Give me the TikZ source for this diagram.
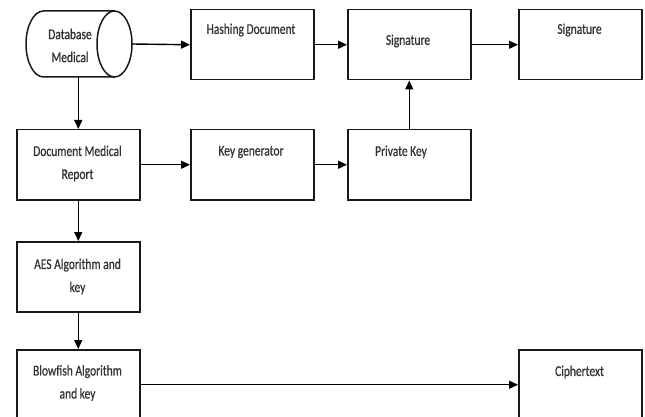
\documentclass[tikz,border=0pt]{standalone}
\usepackage{fontspec}
\setmainfont{Carlito}
\newfontface\labelface{Carlito}[FakeBold=0.8]
\usetikzlibrary{arrows.meta}
% labels are set in a narrow, tall face
\newcommand\tall[1]{\scalebox{1}[1.3]{#1}}
\begin{document}
\begin{tikzpicture}[x=1pt,y=-1pt,
  box/.style={draw=black!90, line width=1.5pt, minimum width=123pt, minimum height=70pt,
              anchor=north west, inner sep=0pt},
  txt/.style={text=black!80, font=\fontsize{11.5}{23}\labelface, align=center, inner sep=0pt},
  arr/.style={draw=black, line width=1.4pt, -{Triangle[length=9pt,width=8pt]}}]
\useasboundingbox (0,0) rectangle (645,417);
\clip (0,0) rectangle (645,417);
\fill[white] (0,0) rectangle (645,417);

% storage cylinder (horizontal, open end on the right)
\node[minimum width=106pt, minimum height=66pt, inner sep=0pt] (db) at (79,44) {};
\draw[line width=1.5pt, black!90]
  (114.5,11) -- (43.5,11) arc[start angle=90, end angle=270, x radius=17.5pt, y radius=33pt]
  -- (114.5,77);
\draw[line width=1.5pt, black!90] (114.5,44) ellipse[x radius=17.5pt, y radius=33pt];
\node[txt] (db-t) at (70,45.5) {\tall{Database}\\\tall{Medical}};

% boxes
\node[box] (hash) at (190,9) {};
\node[box] (sig1) at (347,9) {};
\node[box] (sig2) at (518,9) {};
\node[box] (doc) at (16,129) {};
\node[box] (keygen) at (190,129) {};
\node[box] (priv) at (347,129) {};
\node[box] (aes) at (16,241) {};
\node[box] (blow) at (16,349) {};
\node[box] (ciph) at (518,349) {};

% labels
\node[txt] (hash-t) at (251,30) {\tall{Hashing Document}};
\node[txt] (sig1-t) at (408,41) {\tall{Signature}};
\node[txt] (sig2-t) at (579.5,30) {\tall{Signature}};
\node[txt] (doc-t) at (77.5,163.5) {\tall{Document Medical}\\\tall{Report}};
\node[txt] (keygen-t) at (251,152) {\tall{Key generator}};
\node[txt] (priv-t) at (401,152) {\tall{Private Key}};
\node[txt] (aes-t) at (77.5,276.5) {\tall{AES Algorithm and}\\\tall{key}};
\node[txt] (blow-t) at (77.5,383) {\tall{Blowfish Algorithm}\\\tall{and key}};
\node[txt] (ciph-t) at (579.5,372) {\tall{Ciphertext}};

% connectors
\draw[arr] (db.east) -- (hash.west);
\draw[arr] (hash.east) -- (sig1.west);
\draw[arr] (sig1.east) -- (sig2.west);
\draw[arr] (doc.north |- db.south) -- (doc.north);
\draw[arr] (doc.east) -- (keygen.west);
\draw[arr] (keygen.east) -- (priv.west);
\draw[arr] (priv.north) -- (sig1.south);
\draw[arr] (doc.south) -- (aes.north);
\draw[arr] (aes.south) -- (blow.north);
\draw[arr] (blow.east) -- (ciph.west);
\end{tikzpicture}
\end{document}
